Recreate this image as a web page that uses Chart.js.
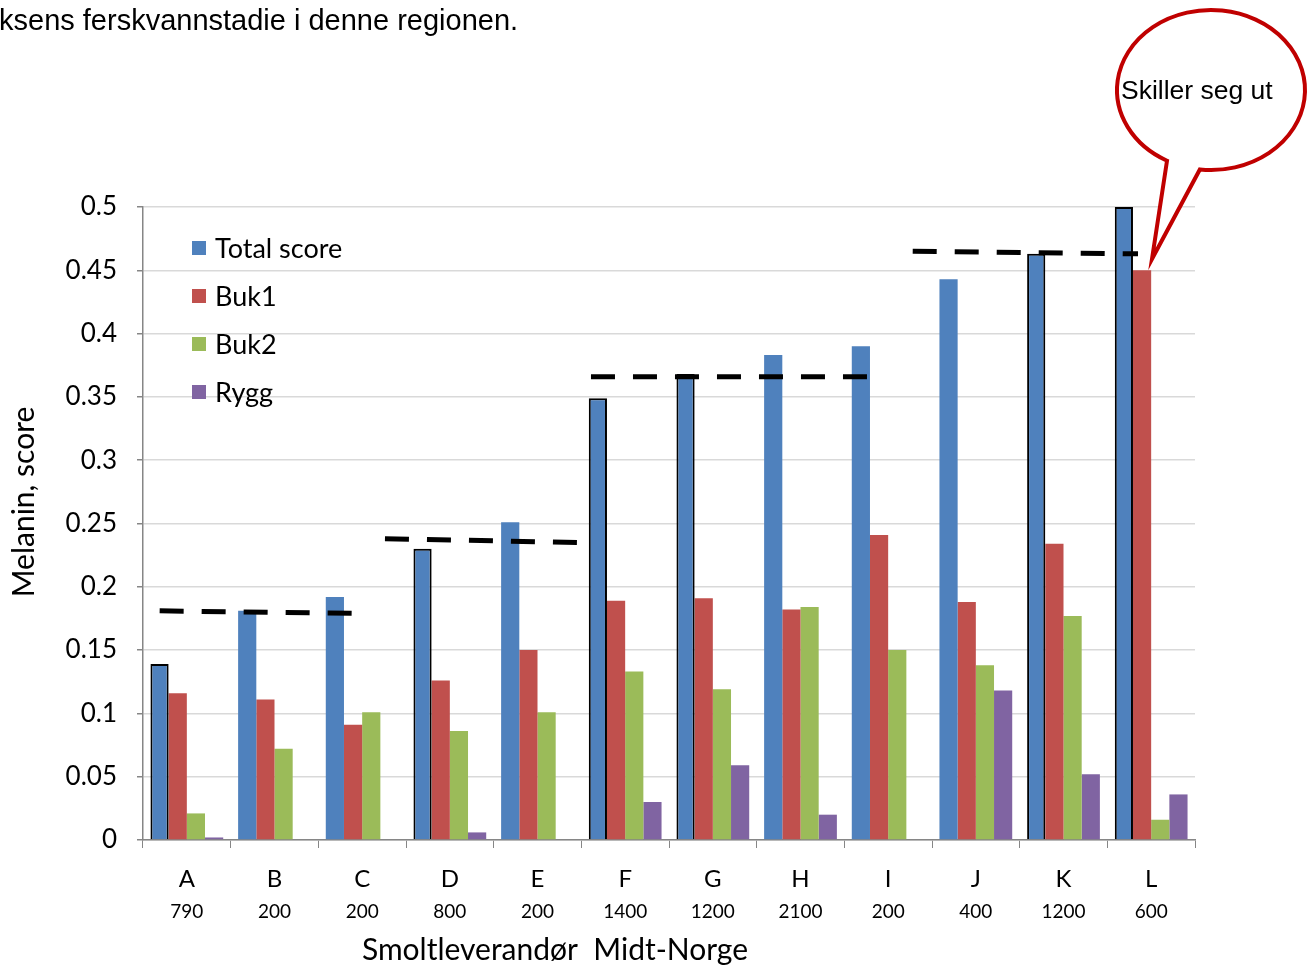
<!DOCTYPE html>
<html>
<head>
<meta charset="utf-8">
<script src="https://cdn.jsdelivr.net/npm/chart.js@4.4.1/dist/chart.umd.min.js"></script>
<style>
  html, body { margin: 0; padding: 0; background: #ffffff; }
  #wrap { width: 1310px; height: 968px; position: relative; }
</style>
</head>
<body>
<div id="wrap"><canvas id="melaninChart" width="1310" height="968"></canvas></div>
<script>
// Data
const categories = ['A', 'B', 'C', 'D', 'E', 'F', 'G', 'H', 'I', 'J', 'K', 'L'];
const volumes = ['790', '200', '200', '800', '200', '1400', '1200', '2100', '200', '400', '1200', '600'];
const totalScore = [0.139, 0.181, 0.192, 0.230, 0.251, 0.349, 0.368, 0.383, 0.390, 0.443, 0.463, 0.500];
const buk1 = [0.116, 0.111, 0.091, 0.126, 0.150, 0.189, 0.191, 0.182, 0.241, 0.188, 0.234, 0.450];
const buk2 = [0.021, 0.072, 0.101, 0.086, 0.101, 0.133, 0.119, 0.184, 0.150, 0.138, 0.177, 0.016];
const rygg = [0.002, 0, 0, 0.006, 0, 0.030, 0.059, 0.020, 0, 0.118, 0.052, 0.036];
const outlinedTotal = [true, false, false, true, false, true, true, false, false, false, true, true];

// dashed reference levels: from / to as category index, start and end value
const levelFrom = [-0.31, 2.26, 4.61, 8.28];
const levelTo = [1.92, 4.46, 7.76, 10.85];
const levelStart = [0.181, 0.238, 0.366, 0.465];
const levelEnd = [0.179, 0.235, 0.366, 0.463];

const bodyFont = 'Lato, "Open Sans", sans-serif';
const arialFont = '"Liberation Sans", Arial, sans-serif';

const levelLines = {
    id: 'levelLines',
    afterDatasetsDraw(chart) {
        const ctx = chart.ctx;
        const x = chart.scales.x;
        const y = chart.scales.y;
        const step = x.getPixelForValue(1) - x.getPixelForValue(0);
        ctx.save();
        ctx.strokeStyle = '#000000';
        ctx.lineWidth = 5;
        ctx.setLineDash([24, 18]);
        for (let i = 0; i < levelFrom.length; i++) {
            const x0 = x.getPixelForValue(0) + levelFrom[i] * step;
            const x1 = x.getPixelForValue(0) + levelTo[i] * step;
            ctx.beginPath();
            ctx.moveTo(x0, y.getPixelForValue(levelStart[i]));
            ctx.lineTo(x1, y.getPixelForValue(levelEnd[i]));
            ctx.stroke();
        }
        ctx.restore();
    }
};

const decorations = {
    id: 'decorations',
    afterDraw(chart) {
        const ctx = chart.ctx;
        const x = chart.scales.x;
        ctx.save();

        // legend inside the plot
        ctx.font = '27px ' + bodyFont;
        ctx.textBaseline = 'middle';
        ctx.textAlign = 'left';
        chart.data.datasets.forEach((ds, i) => {
            const cy = 248 + i * 48;
            ctx.fillStyle = ds.backgroundColor;
            ctx.fillRect(192, cy - 7, 14, 14);
            ctx.fillStyle = '#000000';
            ctx.fillText(ds.label, 215, cy + 1);
        });

        // category letters and volumes
        ctx.textAlign = 'center';
        ctx.fillStyle = '#000000';
        categories.forEach((c, i) => {
            const px = x.getPixelForValue(i);
            ctx.font = '24px ' + bodyFont;
            ctx.fillText(c, px, 879);
            ctx.font = '19px ' + bodyFont;
            ctx.fillText(volumes[i], px, 912);
        });

        // axis titles
        ctx.font = '30px ' + bodyFont;
        ctx.fillText('Smoltleverandør  Midt-Norge', 555, 950);
        ctx.save();
        ctx.translate(24, 502);
        ctx.rotate(-Math.PI / 2);
        ctx.fillText('Melanin, score', 0, 0);
        ctx.restore();

        // text line at top
        ctx.textAlign = 'left';
        ctx.textBaseline = 'alphabetic';
        ctx.font = '29px ' + arialFont;
        ctx.fillText('ksens ferskvannstadie i denne regionen.', -1, 30);

        // speech bubble
        const cx = 1211, cy = 90, rx = 94, ry = 80;
        const a1 = 96.8 * Math.PI / 180;
        const a2 = 117.9 * Math.PI / 180;
        ctx.beginPath();
        ctx.ellipse(cx, cy, rx, ry, 0, a1, a2, true);
        ctx.lineTo(1152, 259);
        ctx.closePath();
        ctx.fillStyle = '#ffffff';
        ctx.fill();
        ctx.strokeStyle = '#C00000';
        ctx.lineWidth = 4;
        ctx.lineJoin = 'miter';
        ctx.stroke();
        ctx.fillStyle = '#000000';
        ctx.font = '26.5px ' + arialFont;
        ctx.textBaseline = 'middle';
        ctx.fillText('Skiller seg ut', 1121, 92);

        ctx.restore();
    }
};

new Chart(document.getElementById('melaninChart'), {
    type: 'bar',
    data: {
        labels: categories,
        datasets: [
            {
                label: 'Total score',
                data: totalScore,
                backgroundColor: '#4F81BD',
                borderColor: '#000000',
                borderWidth: outlinedTotal.map(o => o ? 2 : 0)
            },
            { label: 'Buk1', data: buk1, backgroundColor: '#C0504D', borderWidth: 0 },
            { label: 'Buk2', data: buk2, backgroundColor: '#9BBB59', borderWidth: 0 },
            { label: 'Rygg', data: rygg, backgroundColor: '#8064A2', borderWidth: 0 }
        ]
    },
    options: {
        responsive: false,
        animation: false,
        devicePixelRatio: 1,
        layout: { padding: { top: 207, right: 115, bottom: 0, left: 0 } },
        datasets: { bar: { categoryPercentage: 0.83, barPercentage: 1 } },
        plugins: {
            legend: { display: false },
            tooltip: { enabled: false }
        },
        scales: {
            x: {
                afterFit(scale) { scale.height = 128; },
                grid: {
                    offset: true,
                    drawOnChartArea: false,
                    drawTicks: true,
                    tickLength: 8,
                    tickColor: '#868686'
                },
                border: { color: '#868686', width: 1.5 },
                ticks: { display: false }
            },
            y: {
                min: 0,
                max: 0.5,
                afterFit(scale) { scale.width = 143; },
                grid: {
                    color: '#d9d9d9',
                    lineWidth: 1.5,
                    tickLength: 6,
                    tickColor: '#868686'
                },
                border: { color: '#868686', width: 1.5 },
                ticks: {
                    stepSize: 0.05,
                    color: '#000000',
                    padding: 20,
                    font: { family: bodyFont, size: 26 },
                    callback: v => String(Number(v.toFixed(2)))
                }
            }
        }
    },
    plugins: [levelLines, decorations]
});
</script>
</body>
</html>
